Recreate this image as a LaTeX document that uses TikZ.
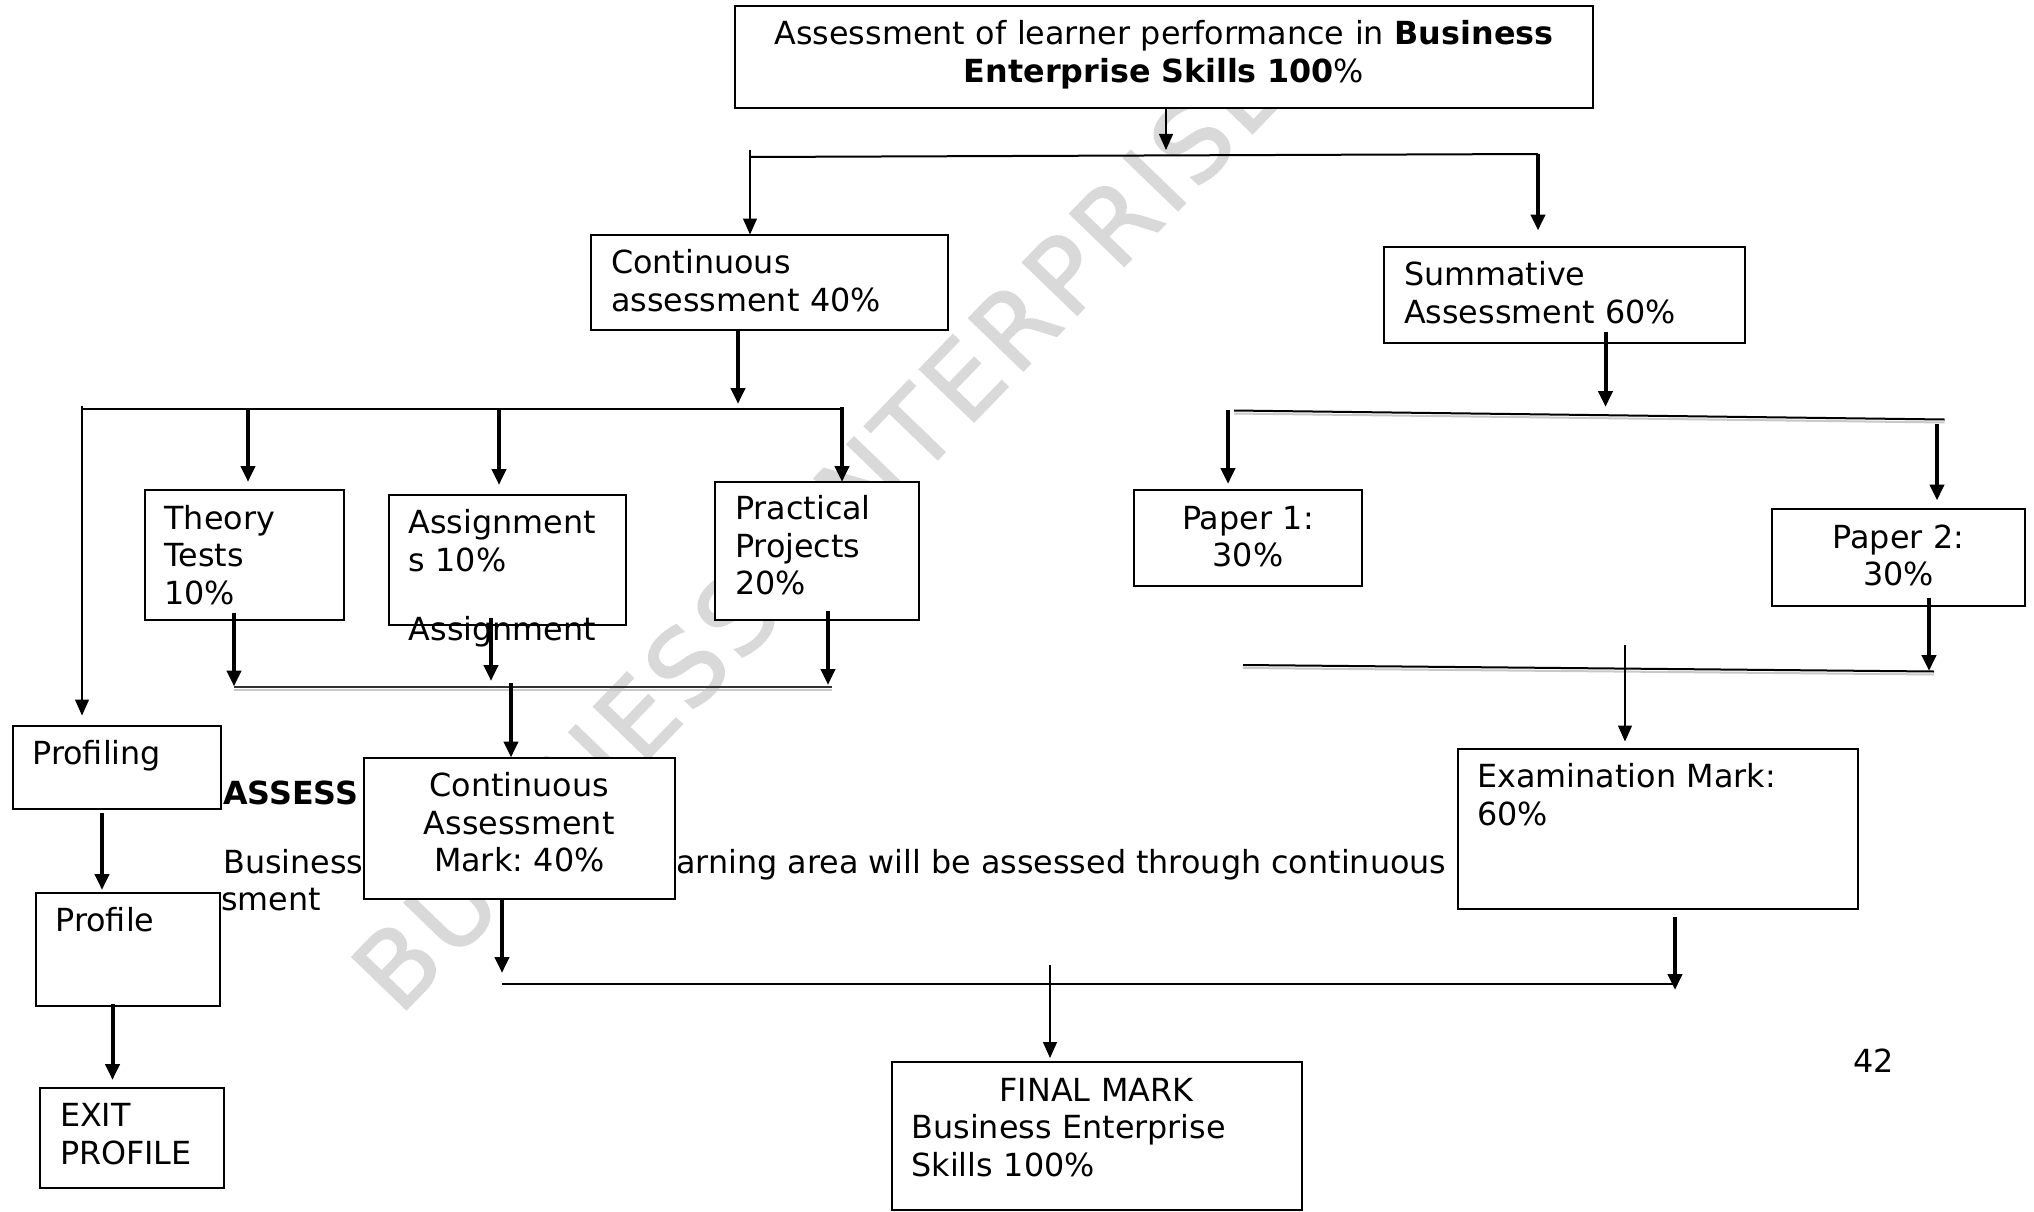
\documentclass[tikz,border=0pt]{standalone}
\usepackage{fontspec}
\setmainfont{DejaVu Sans}
\newfontfamily\wmfont[FakeBold=1.5,LetterSpace=5]{DejaVu Sans}
\usetikzlibrary{arrows.meta,calc}
\definecolor{wmgray}{HTML}{D9D9D9}
\definecolor{ghostgray}{HTML}{C8C8C8}
\newcommand{\bodyfont}{\fontsize{31.8}{37.5}\selectfont\frenchspacing}

\begin{document}
\begin{tikzpicture}[x=1pt,y=-1pt,
  every node/.style={font=\bodyfont},
  box/.style={draw,fill=white,line width=2pt,anchor=north west,inner xsep=20pt,inner ysep=0pt,outer sep=0pt,text height=39pt,align=left},
  loose/.style={anchor=base west,inner sep=0pt},
  watermark/.style={rotate=46,text=wmgray,inner sep=0pt,font=\wmfont\fontsize{104}{120}\selectfont},
  lightarrow/.style={line width=1.3pt,-{Triangle[width=14pt,length=16pt]}},
  heavyarrow/.style={line width=4pt,-{Triangle[width=14pt,length=16pt]}},
  bus/.style={line width=2pt},
  ghost/.style={line width=2pt,draw=ghostgray}]
\fill[white] (0,0) rectangle (2034,1212);
\useasboundingbox (0,0) rectangle (2034,1212);

% watermark and page text behind the chart
\node[watermark] (wm) at (818,529) {BUSINESS ENTERPRISE};
\node[loose,font=\bodyfont\bfseries] (assesshead) at (223,804) {ASSESS};
\node[loose] (bizword) at (223,873) {Business};
\node[loose] (smentword) at (221,910) {sment};
\node[loose] (learnline) at (676,873) {arning area will be assessed through continuous};
\node[loose] (pageno) at (1853,1072.5) {42};

% boxes
\node[box,text width=818pt,text depth=63pt,align=center] (top) at (735,6) {Assessment of learner performance in \textbf{Business}\\\textbf{Enterprise Skills 100}\%};
\node[box,text width=317pt,text depth=56pt] (cont) at (591,234.5) {Continuous\\assessment 40\%};
\node[box,text width=321pt,text depth=57pt] (summ) at (1384,246.5) {Summative\\Assessment 60\%};
\node[box,text width=159.5pt,text depth=90.5pt] (theory) at (144.5,490) {Theory\\Tests\\10\%};
\node[box,text width=197pt,text depth=91pt] (assign) at (388.5,494.5) {Assignment\\s 10\%};
\node[box,text width=163.5pt,text depth=100pt,text height=37.5pt] (pract) at (715,482) {Practical\\Projects\\20\%};
\node[box,text width=188pt,text depth=56.5pt,align=center] (paper1) at (1134,490) {Paper 1:\\30\%};
\node[box,text width=213pt,text depth=58pt,align=center] (paper2) at (1772,509) {Paper 2:\\30\%};
\node[box,text width=168pt,text depth=44pt] (profiling) at (12.5,725.5) {Profiling};
\node[box,text width=270.5pt,text depth=102pt,align=center] (cam) at (364,757.5) {Continuous\\Assessment\\Mark: 40\%};
\node[box,text width=360pt,text depth=121pt] (exam) at (1457.5,748.5) {Examination Mark:\\60\%};
\node[box,text width=144.5pt,text depth=74.5pt] (profile) at (35.5,892.5) {Profile};
\node[box,text width=144pt,text depth=61pt] (exit) at (40,1087.5) {EXIT\\PROFILE};
\node[box,text width=370pt,text depth=109pt] (final) at (891.5,1062) {{\centering FINAL MARK\par}Business Enterprise\\Skills 100\%};
\node[loose] (assignextra) at (408.5,640) {Assignment};

% split under the top box
\coordinate (splitL) at (750,157);
\coordinate (splitR) at (1538,154);
\coordinate (topdrop) at (1166,150);
\draw[lightarrow] (top.south -| topdrop) -- (topdrop);
\draw[bus] (splitL) -- (splitR);
\draw[lightarrow,shorten <=-7pt] (splitL) -- (splitL |- cont.north);
\draw[heavyarrow,shorten >=16pt] (splitR) -- (splitR |- summ.north);

% continuous assessment branch
\coordinate (contdrop) at (738,404);
\coordinate (caL) at (82,409);
\coordinate (caR) at (842,409);
\coordinate (tdrop) at (248,409);
\coordinate (adrop) at (499,409);
\draw[heavyarrow,shorten <=-1pt] (cont.south -| contdrop) -- (contdrop);
\draw[bus] (caL) -- (caR);
\draw[lightarrow,shorten <=-3pt,shorten >=10pt] (caL) -- (caL |- profiling.north);
\draw[heavyarrow,shorten >=8pt] (tdrop) -- (tdrop |- theory.north);
\draw[heavyarrow,shorten >=9.5pt] (adrop) -- (adrop |- assign.north);
\draw[heavyarrow,shorten <=-2pt] (caR) -- (caR |- pract.north);

% merge into the continuous assessment mark
\coordinate (mergeL) at (234,686.5);
\coordinate (mergeR) at (832,686.5);
\coordinate (amerge) at (491,681);
\coordinate (pmerge) at (828,685);
\coordinate (camdrop) at (511,683);
\draw[ghost] ([yshift=-3pt]mergeL) -- ([yshift=-3pt]mergeR);
\draw[bus,draw=black!80] (mergeL) -- (mergeR);
\draw[heavyarrow,shorten <=-7pt] (theory.south -| mergeL) -- (mergeL);
\draw[heavyarrow,shorten <=-7pt] (assign.south -| amerge) -- (amerge);
\draw[heavyarrow,shorten <=-9pt] (pract.south -| pmerge) -- (pmerge);
\draw[heavyarrow] (camdrop) -- (camdrop |- cam.north);

% summative branch
\coordinate (summdrop) at (1605.5,407);
\coordinate (sumL) at (1234,410.5);
\coordinate (sumR) at (1944.5,419.5);
\coordinate (p1drop) at (1228,410);
\coordinate (p2drop) at (1937,424);
\draw[heavyarrow,shorten <=-11pt] (summ.south -| summdrop) -- (summdrop);
\draw[ghost] ([yshift=-3pt]sumL) -- ([yshift=-3pt]sumR);
\draw[bus] (sumL) -- (sumR);
\draw[heavyarrow,shorten >=6pt] (p1drop) -- (p1drop |- paper1.north);
\draw[heavyarrow,shorten >=8.5pt] (p2drop) -- (p2drop |- paper2.north);

% merge into the examination mark
\coordinate (exL) at (1243,665);
\coordinate (exR) at (1934,671.5);
\coordinate (p2out) at (1929,671);
\coordinate (exdrop) at (1625,645);
\draw[ghost] ([yshift=-3pt]exL) -- ([yshift=-3pt]exR);
\draw[bus] (exL) -- (exR);
\draw[heavyarrow,shorten <=-8.5pt] (paper2.south -| p2out) -- (p2out);
\draw[lightarrow,shorten >=7pt] (exdrop) -- (exdrop |- exam.north);

% final mark
\coordinate (finL) at (502,984);
\coordinate (finR) at (1675,984);
\coordinate (findrop) at (1050,965);
\draw[bus,line width=2.5pt] (finL) -- (finR);
\draw[heavyarrow,shorten >=11pt] (cam.south -| finL) -- (finL);
\draw[heavyarrow,shorten <=8.5pt,shorten >=-6pt] (exam.south -| finR) -- (finR);
\draw[lightarrow,shorten >=4pt] (findrop) -- (findrop |- final.north);

% profile chain
\coordinate (pf1) at (102,813);
\coordinate (pf2) at (112.5,1004);
\draw[heavyarrow,shorten >=2.5pt] (pf1) -- (pf1 |- profile.north);
\draw[heavyarrow,shorten >=7.5pt] (pf2) -- (pf2 |- exit.north);
\end{tikzpicture}
\end{document}
